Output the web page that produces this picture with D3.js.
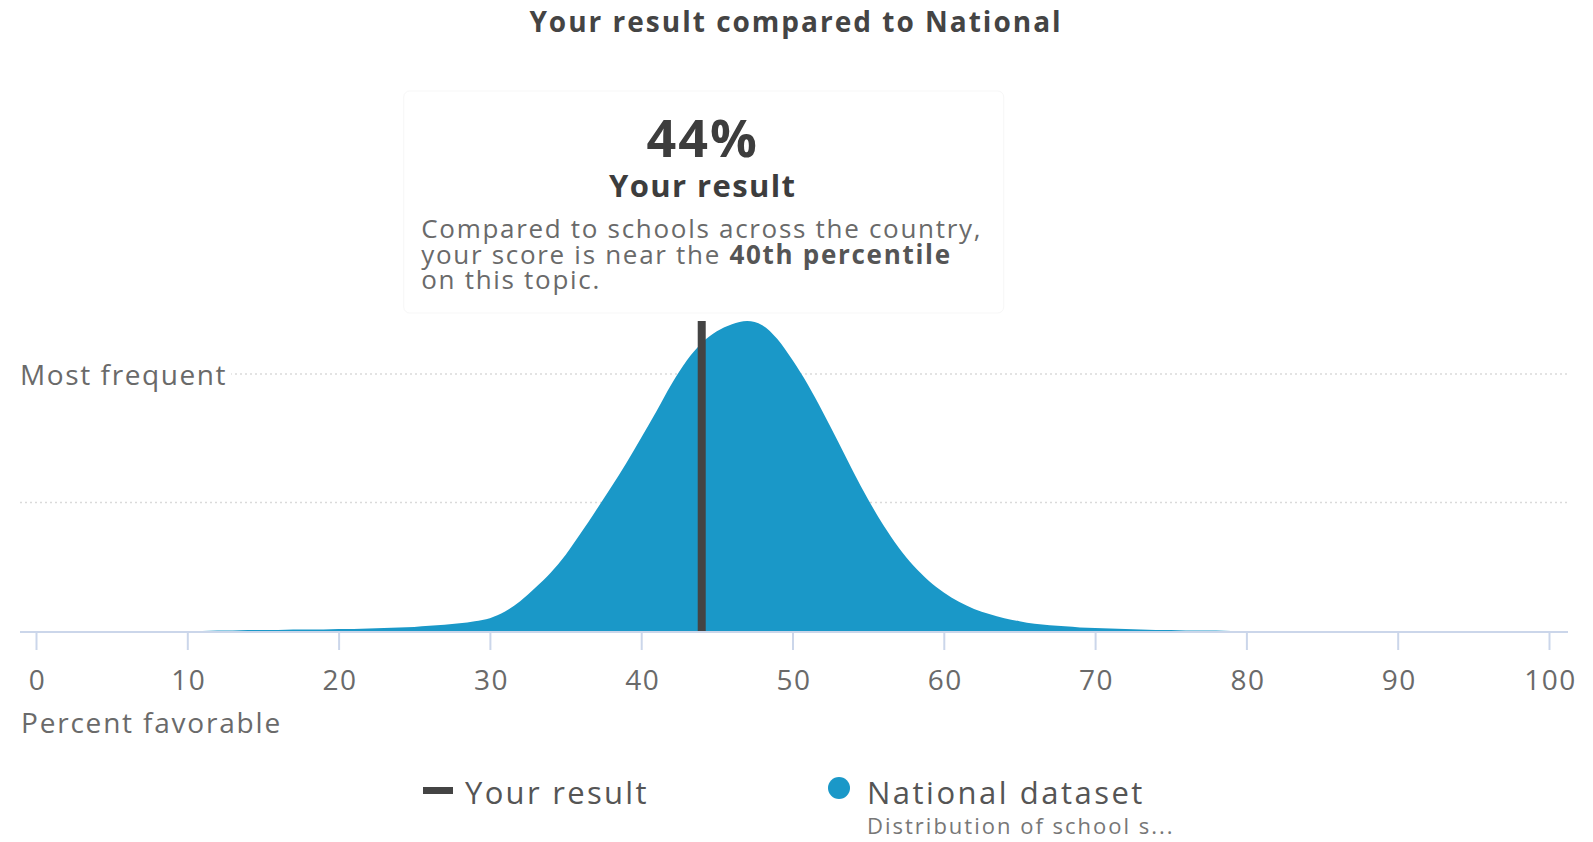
<!DOCTYPE html>
<html>
<head>
<meta charset="utf-8">
<script src="https://cdn.jsdelivr.net/npm/d3@7/dist/d3.min.js"></script>
<style>
	body { margin: 0; background: #fff; }
	svg text { font-family: "Open Sans", sans-serif; }
</style>
</head>
<body>
<svg id="chart" width="1593" height="842"></svg>
<script>
// percent favorable bins and share of schools (% per point)
var bins = [0, 10,
	11, 12, 13, 14, 15, 16, 17, 18, 19, 20,
	21, 22, 23, 24, 25, 26, 27, 28, 29, 30,
	31, 32, 33, 34, 35, 36, 37, 38, 39, 40,
	41, 42, 43, 44, 45, 46, 47, 48, 49, 50,
	51, 52, 53, 54, 55, 56, 57, 58, 59, 60,
	61, 62, 63, 64, 65, 66, 67, 68, 69, 70,
	71, 72, 73, 74, 75, 76, 77, 78, 79, 80, 100];
var national = [0, 0,
	0, 0.01, 0.01, 0.02, 0.02, 0.02, 0.03, 0.03, 0.03, 0.04,
	0.04, 0.05, 0.06, 0.07, 0.08, 0.10, 0.12, 0.15, 0.19, 0.25,
	0.38, 0.58, 0.84, 1.13, 1.48, 1.90, 2.34, 2.79, 3.26, 3.76,
	4.27, 4.80, 5.26, 5.60, 5.83, 5.97, 6.03, 5.95, 5.68, 5.27,
	4.80, 4.26, 3.69, 3.11, 2.56, 2.06, 1.63, 1.27, 0.98, 0.75,
	0.57, 0.43, 0.33, 0.25, 0.19, 0.14, 0.11, 0.09, 0.07, 0.06,
	0.05, 0.04, 0.03, 0.02, 0.02, 0.01, 0.01, 0.01, 0, 0, 0];

var xTicks = [0, 10, 20, 30, 40, 50, 60, 70, 80, 90, 100];
var gridValues = [2.5, 5];
var yourResult = 44;
var percentile = "40th percentile";

var colors = {
	national: "#1a98c8",
	result: "#444444",
	title: "#444444",
	text: "#6a6a6a",
	axis: "#cbd6ea",
	grid: "#dadada"
};

var svg = d3.select("#chart");

var x = d3.scaleLinear().domain([0, 100]).range([36, 1549]);
var y = d3.scaleLinear().domain([0, 5]).range([631, 374]);

// title
svg.append("text")
	.attr("x", 796).attr("y", 32)
	.attr("text-anchor", "middle")
	.attr("font-size", 28).attr("font-weight", 700)
	.attr("letter-spacing", 2)
	.attr("fill", colors.title)
	.text("Your result compared to National");

// dotted grid lines
svg.append("g").selectAll("line")
	.data(gridValues)
	.join("line")
	.attr("x1", 20).attr("x2", 1568)
	.attr("y1", function(d) { return y(d); })
	.attr("y2", function(d) { return y(d); })
	.attr("stroke", colors.grid)
	.attr("stroke-width", 1.5)
	.attr("stroke-dasharray", "2,3");

// "Most frequent" label sits on the top grid line
var mf = svg.append("g");
var mfText = mf.append("text")
	.attr("x", 20).attr("y", y(5) + 11)
	.attr("font-size", 28)
	.attr("letter-spacing", 1.6)
	.attr("fill", colors.text)
	.text("Most frequent");
var bb = mfText.node().getBBox();
mf.insert("rect", "text")
	.attr("x", bb.x).attr("y", bb.y)
	.attr("width", bb.width + 4).attr("height", bb.height)
	.attr("fill", "#fff");

// national distribution
var area = d3.area()
	.x(function(d, i) { return x(bins[i]); })
	.y0(y(0))
	.y1(function(d) { return y(d); })
	.curve(d3.curveMonotoneX);

svg.append("path")
	.datum(national)
	.attr("d", area)
	.attr("fill", colors.national);

// x axis
var xAxis = d3.axisBottom(x)
	.tickValues(xTicks)
	.tickSize(19)
	.tickPadding(20);
var xg = svg.append("g").attr("transform", "translate(0," + y(0) + ")");
xg.call(xAxis);
xg.select(".domain").remove();
xg.selectAll(".tick line")
	.attr("stroke", colors.axis)
	.attr("stroke-width", 2);
xg.selectAll(".tick text")
	.attr("font-size", 28)
	.attr("font-family", "Open Sans, sans-serif")
	.attr("letter-spacing", 1.5)
	.attr("dx", 1)
	.attr("fill", colors.text);
xg.append("line")
	.attr("x1", 20).attr("x2", 1568)
	.attr("y1", 1).attr("y2", 1)
	.attr("stroke", colors.axis)
	.attr("stroke-width", 2);

svg.append("text")
	.attr("x", 21).attr("y", 733)
	.attr("font-size", 28)
	.attr("letter-spacing", 1.8)
	.attr("fill", colors.text)
	.text("Percent favorable");

// your result marker
svg.append("line")
	.attr("x1", x(yourResult)).attr("x2", x(yourResult))
	.attr("y1", y(0)).attr("y2", y(d3.max(national)))
	.attr("stroke", colors.result)
	.attr("stroke-width", 8);

// tooltip box above the marker
var tip = svg.append("g");
tip.append("rect")
	.attr("x", x(yourResult) - 298).attr("y", 91)
	.attr("width", 600).attr("height", 222)
	.attr("rx", 6)
	.attr("fill", "#fff")
	.attr("stroke", "#f7f7f7");

tip.append("text")
	.attr("x", x(yourResult) + 1).attr("y", 157)
	.attr("text-anchor", "middle")
	.attr("font-size", 52).attr("font-weight", 700)
	.attr("letter-spacing", 2)
	.attr("fill", "#3d3d3d")
	.text(yourResult + "%");

tip.append("text")
	.attr("x", x(yourResult) + 1).attr("y", 197)
	.attr("text-anchor", "middle")
	.attr("font-size", 31).attr("font-weight", 700)
	.attr("letter-spacing", 1.4)
	.attr("fill", "#3d3d3d")
	.text("Your result");

var body = tip.append("g");
body.append("text").attr("y", 238)
	.text("Compared to schools across the country,");
var l2 = body.append("text").attr("y", 264);
l2.append("tspan").text("your score is near the ");
l2.append("tspan").attr("font-weight", 700).attr("fill", "#555").text(percentile);
body.append("text").attr("y", 289).text("on this topic.");
body.selectAll("text")
	.attr("font-size", 26)
	.attr("letter-spacing", 1.7)
	.attr("fill", colors.text);
var widest = d3.max(body.selectAll("text").nodes(), function(n) { return n.getComputedTextLength(); });
body.selectAll("text").attr("x", x(yourResult) - widest / 2);

// legend
var legend = svg.append("g");
legend.append("rect")
	.attr("x", 423).attr("y", 787)
	.attr("width", 30).attr("height", 7)
	.attr("fill", colors.result);
legend.append("text")
	.attr("x", 465).attr("y", 804)
	.attr("font-size", 31)
	.attr("letter-spacing", 2.3)
	.attr("fill", "#555")
	.text("Your result");

legend.append("circle")
	.attr("cx", 839).attr("cy", 788)
	.attr("r", 11)
	.attr("fill", colors.national);
legend.append("text")
	.attr("x", 867).attr("y", 804)
	.attr("font-size", 31)
	.attr("letter-spacing", 2.5)
	.attr("fill", "#555")
	.text("National dataset");
legend.append("text")
	.attr("x", 867).attr("y", 834)
	.attr("font-size", 22)
	.attr("letter-spacing", 2)
	.attr("fill", "#777")
	.text("Distribution of school s...");
</script>
</body>
</html>
